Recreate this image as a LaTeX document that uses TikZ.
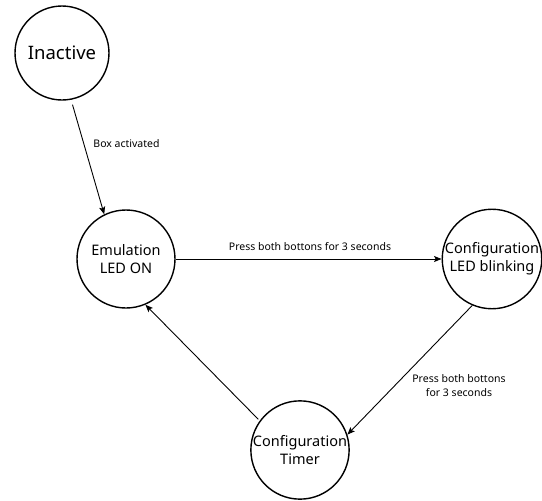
\documentclass[tikz,border=0pt]{standalone}
\usepackage{fontspec}
\setmainfont{Noto Sans}
\usetikzlibrary{arrows.meta}
\begin{document}
\begin{tikzpicture}[x=1pt,y=-1pt,
  state/.style={circle,draw,line width=1.4pt,inner sep=0pt,align=center,font=\fontsize{14.5}{18}\selectfont},
  trans/.style={line width=0.9pt,-{Stealth[length=7.5pt,width=6pt,inset=1.5pt]}},
  lbl/.style={font=\fontsize{10.5}{14}\selectfont,align=center,inner sep=0pt}]
\useasboundingbox (0,0) rectangle (542,501);
\node[state,minimum size=94pt,font=\fontsize{18.5}{22}\selectfont] (inact) at (62,53) {Inactive};
\node[state,minimum size=98pt] (emul) at (126,259) {Emulation\\LED ON};
\node[state,minimum size=96pt] (conf) at (492,259) {Configuration\\LED blinking};
\node[state,minimum size=96pt] (timer) at (300,450) {Configuration\\Timer};
\draw[trans,shorten <=5pt] (inact.-79) -- (emul.116);
\draw[trans] (emul.east) -- (conf.west);
\draw[trans] (conf.247) -- (timer.18);
\draw[trans,shorten <=2pt] (timer.144) -- (emul.-67);
\node[lbl] (l1) at (126.5,144) {Box activated};
\node[lbl] (l2) at (310,247) {Press both bottons for 3 seconds};
\node[lbl] (l3) at (459,386) {Press both bottons\\for 3 seconds};
\end{tikzpicture}
\end{document}
